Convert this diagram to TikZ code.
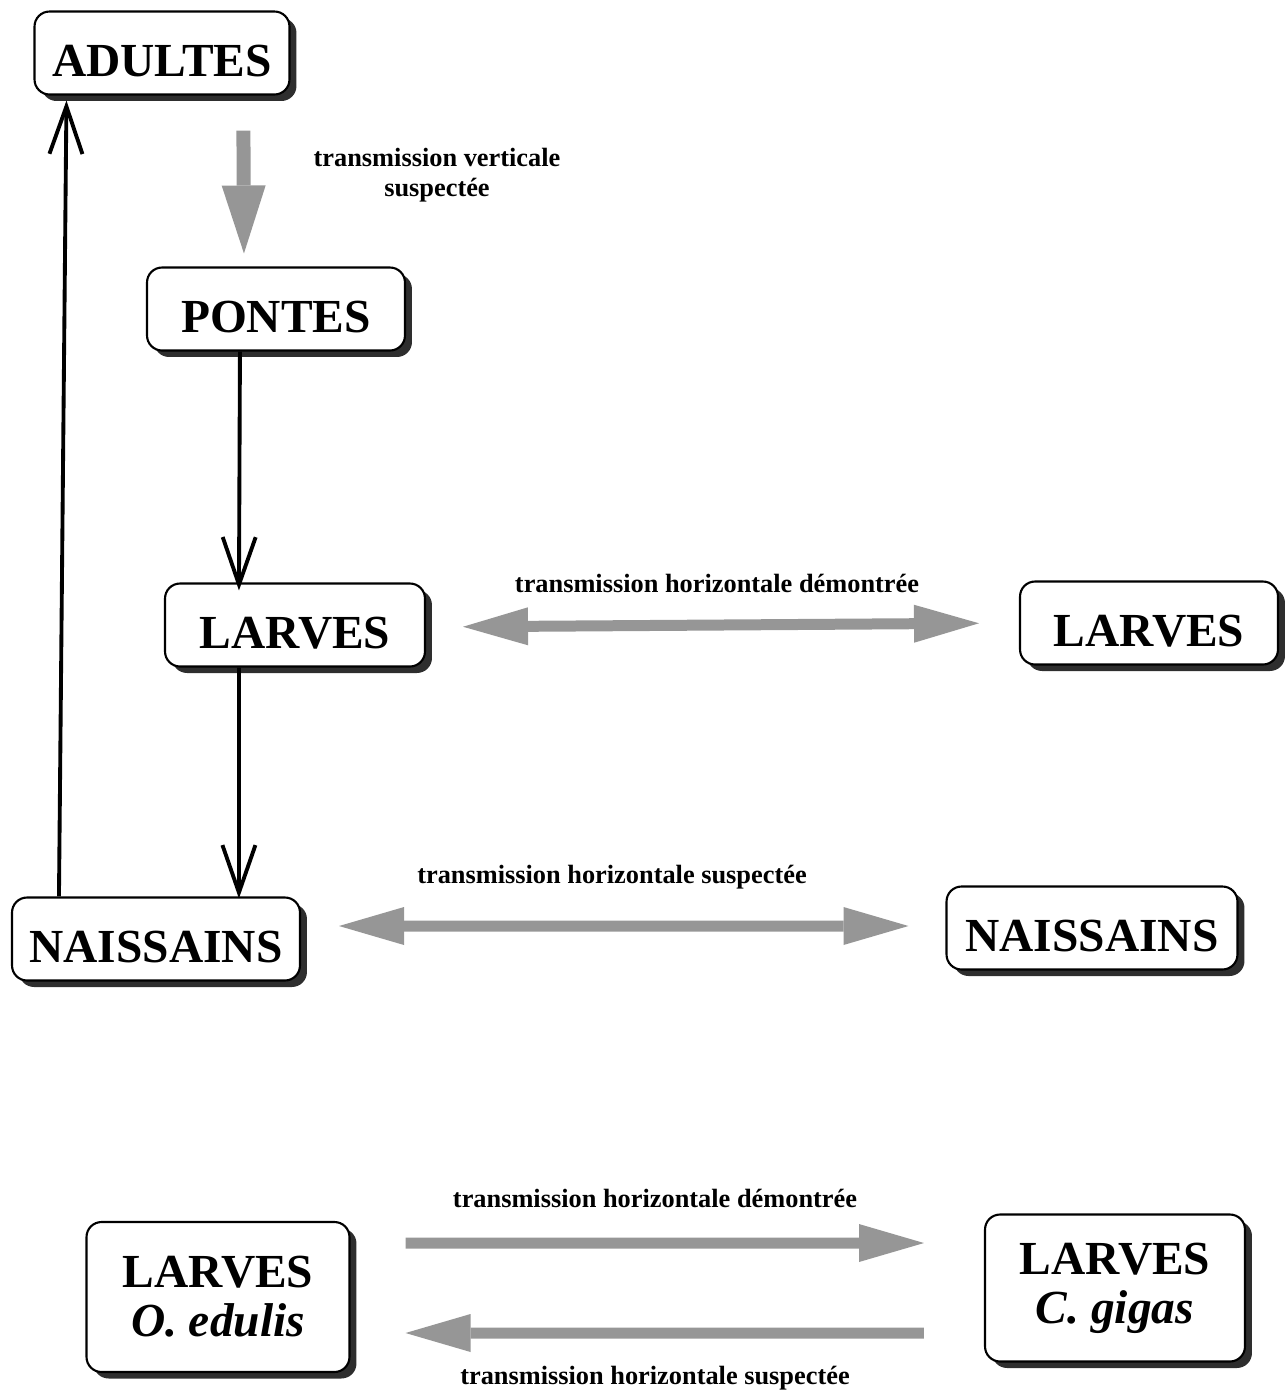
\documentclass[tikz,border=0pt]{standalone}
\usepackage{fontspec}
\setmainfont{Liberation Serif}
\usepackage{xcolor}
\definecolor{ShadowGrey}{HTML}{2E2E2E}
\definecolor{FatGrey}{HTML}{969696}
\usepackage{tikz}
\usetikzlibrary{arrows.meta, positioning, calc, shadows}
\tikzstyle{stage} = [rectangle, draw=black, fill=white, rounded corners=0.3cm, line width=1.2pt, minimum height=1.66cm, align=center, font=\fontsize{27}{28}\selectfont\bfseries, drop shadow={shadow xshift=0.14cm, shadow yshift=-0.13cm, fill=ShadowGrey, opacity=1}]
\tikzstyle{single} = [text height=0.93cm, text depth=0pt]
\tikzstyle{caption} = [font=\fontsize{15}{17}\selectfont\bfseries, align=center, inner sep=0pt]
\tikzstyle{cycle} = [line width=2.2pt, -{Straight Barb[length=0.95cm, width=0.66cm, line width=2.2pt]}]
\tikzstyle{transfer} = [line width=0.22cm, draw=FatGrey, >={Triangle[length=1.3cm, width=0.76cm, line width=0pt 0]}]

\begin{document}
\begin{tikzpicture}[x=0.02cm, y=-0.02cm]
        \useasboundingbox (0,0) rectangle (1287,1390);

        % life cycle
        \node [stage, single, minimum width=5.1cm] (adultes) at (162,53) {ADULTES};
        \node [stage, single, minimum width=5.16cm] (pontes) at (276,309) {PONTES};
        \node [stage, single, minimum width=5.2cm] (larvesA) at (295,625) {LARVES};
        \node [stage, single, minimum width=5.76cm] (naisA) at (156,939) {NAISSAINS};

        \node [stage, single, minimum width=5.16cm] (larvesB) at (1149,623) {LARVES};
        \node [stage, single, minimum width=5.82cm] (naisB) at (1092,928) {NAISSAINS};

        % between species
        \node [stage, minimum width=5.26cm, minimum height=3cm] (oedulis) at (218,1297) {LARVES\\\textit{O. edulis}};
        \node [stage, minimum width=5.2cm, minimum height=2.94cm] (cgigas) at (1115,1288) {LARVES\\\textit{C. gigas}};

        \node [caption] (lblvert) at (437,175) {transmission verticale\\suspectée};
        \node [caption] (lbllarves) at (717,583) {transmission horizontale démontrée};
        \node [caption] (lblnais) at (612,877) {transmission horizontale suspectée};
        \node [caption] (lbldemo) at (655,1198) {transmission horizontale démontrée};
        \node [caption] (lblsusp) at (655,1378) {transmission horizontale suspectée};

        \draw [cycle] ([xshift=1.88cm]pontes.south west) -- ([xshift=1.5cm, yshift=-0.16cm]larvesA.north west);
        \draw [cycle] ([xshift=1.5cm]larvesA.south west) -- ([xshift=4.56cm, yshift=-0.04cm]naisA.north west);
        \draw [cycle] ([xshift=0.96cm]naisA.north west) -- ([xshift=0.66cm, yshift=-0.1cm]adultes.south west);

        \draw [transfer, ->, line width=0.28cm, >={Triangle[length=1.36cm, width=0.88cm, line width=0pt 0]}] ([xshift=4.2cm, yshift=-0.7cm]adultes.south west) -- ([xshift=1.96cm, yshift=0.26cm]pontes.north west);

        \draw [transfer, <->, shorten <=0.74cm, shorten >=0.8cm] ([yshift=-0.04cm]larvesA.east) -- (larvesB.west);
        \draw [transfer, <->, shorten <=0.76cm, shorten >=0.74cm] ([yshift=0.26cm]naisA.east) -- ([yshift=0.04cm]naisB.west);

        \draw [transfer, ->, shorten <=1.1cm, shorten >=1.2cm] ([yshift=1.08cm]oedulis.east) -- ([yshift=0.9cm]cgigas.west);
        \draw [transfer, ->, shorten <=1.2cm, shorten >=1.1cm] ([yshift=-0.9cm]cgigas.west) -- ([yshift=-0.72cm]oedulis.east);
    \end{tikzpicture}
\end{document}
